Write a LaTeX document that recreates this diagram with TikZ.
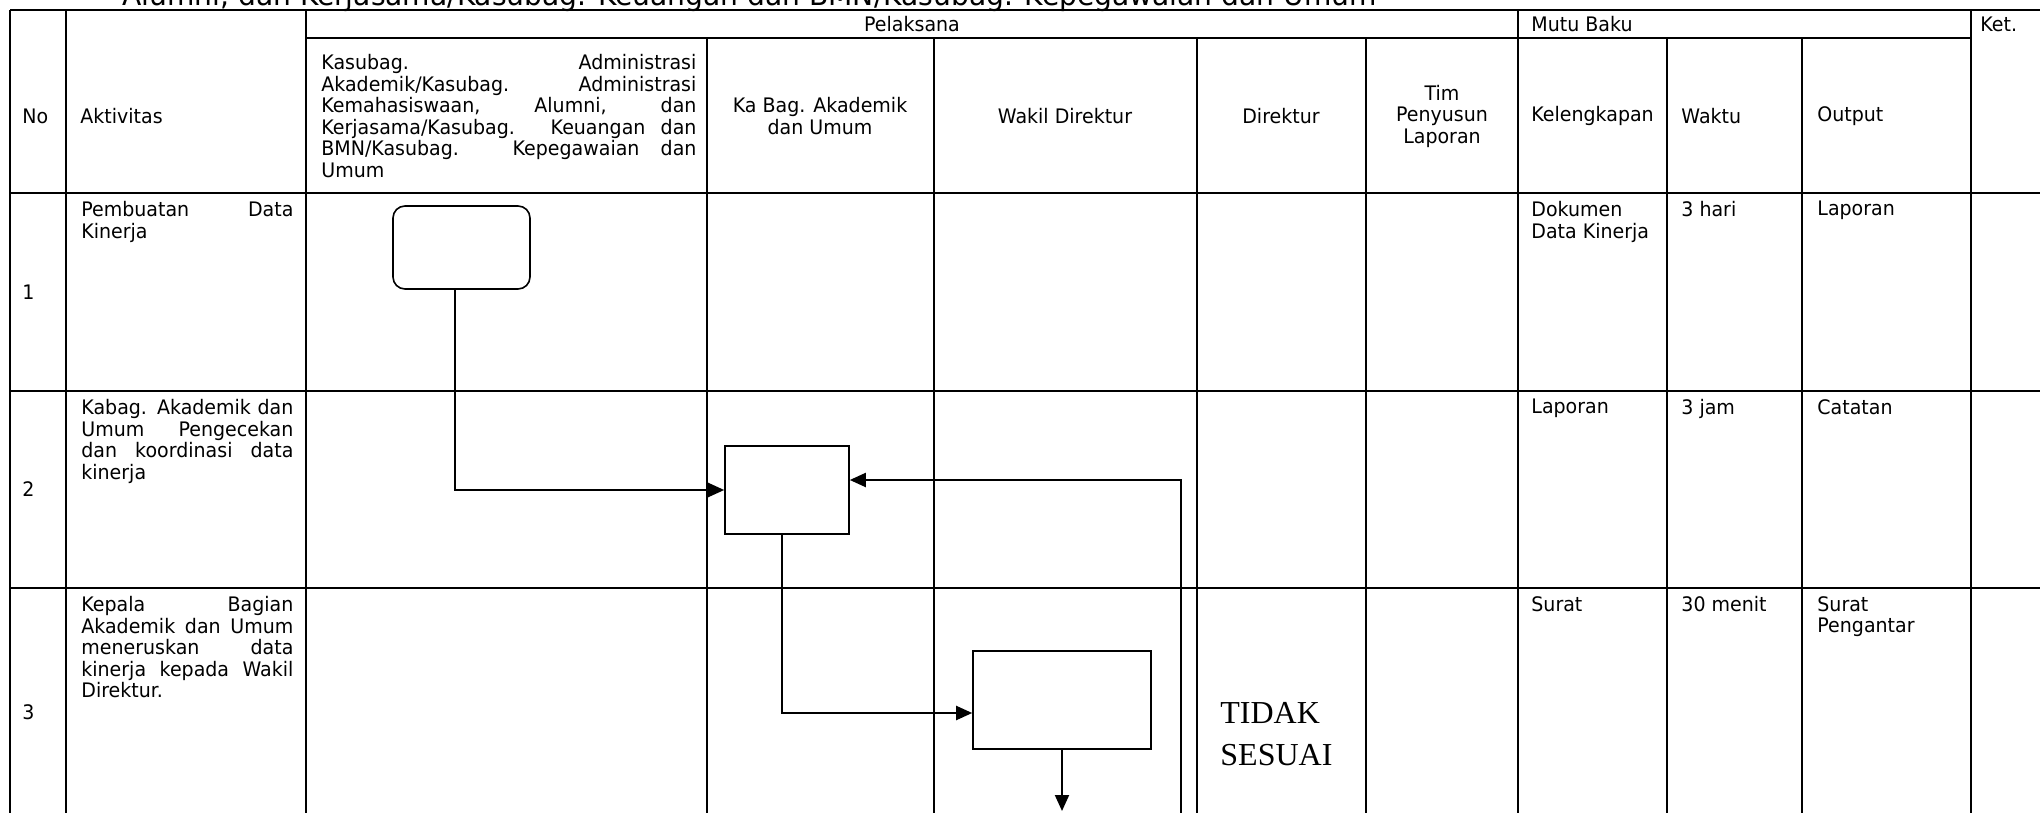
\documentclass[tikz,border=0pt]{standalone}
\usepackage{fontspec}
\setmainfont{DejaVu Sans}[FakeStretch=0.95]
\newfontfamily\judulfont{Liberation Serif}
\usepackage{tikz}
\usetikzlibrary{arrows.meta, positioning, calc}
\newcommand{\cellfont}{\fontsize{10}{10.75}\selectfont}
\tikzset{
  tabline/.style={line width=1.4pt, color=black},
  hdr/.style={inner sep=0pt, font=\cellfont},
  cell/.style={anchor=north west, inner sep=0pt, align=left, font=\cellfont},
  jcell/.style={anchor=north west, inner sep=0pt, text width=106pt,
    align=justify, font=\cellfont},
  prosesbox/.style={rectangle, draw, line width=0.8pt, inner sep=0pt},
  arrow/.style={-{Triangle[length=8pt,width=7pt]}, line width=1pt}
}

\begin{document}
\begin{tikzpicture}[x=0.5pt, y=-0.5pt]
  \useasboundingbox (0,0) rectangle (2040,813);

  % Judul (terpotong di atas)
  \node[anchor=base west, inner sep=0pt, font=\fontsize{14.8}{18}\selectfont]
    (judul) at (122,6) {Alumni, dan Kerjasama/Kasubag. Keuangan dan BMN/Kasubag. Kepegawaian dan Umum};

  % Garis tabel
  \draw[tabline] (10,10) -- (2040,10);
  \draw[tabline] (306,38) -- (1971,38);
  \draw[tabline] (10,193) -- (2040,193);
  \draw[tabline] (10,391) -- (2040,391);
  \draw[tabline] (10,588) -- (2040,588);
  \foreach \x in {10,66,306,1518,1971}
    \draw[tabline] (\x,10) -- (\x,813);
  \foreach \x in {707,934,1197,1366,1667,1802}
    \draw[tabline] (\x,38) -- (\x,813);

  % Kepala tabel
  \node[hdr, anchor=west] (hNo) at (22,116) {No};
  \node[hdr, anchor=west] (hAktivitas) at (80,116) {Aktivitas};
  \node[hdr] (hPelaksana) at (912,24) {Pelaksana};
  \node[hdr, anchor=west] (hMutu) at (1531,24) {Mutu Baku};
  \node[hdr, anchor=west] (hKet) at (1980,24) {Ket.};
  \node[hdr, anchor=west, text width=187.5pt, align=justify] (hKasubag) at (321,116)
    {Kasubag. Administrasi\linebreak Akademik/Kasubag. Administrasi\linebreak
     Kemahasiswaan, Alumni, dan\linebreak Kerjasama/Kasubag. Keuangan dan\linebreak
     BMN/Kasubag. Kepegawaian dan\linebreak Umum};
  \node[hdr, align=center] (hKabag) at (820,116) {Ka Bag. Akademik\\dan Umum};
  \node[hdr] (hWadir) at (1065,116) {Wakil Direktur};
  \node[hdr] (hDirektur) at (1281,116) {Direktur};
  \node[hdr, align=center] (hTim) at (1442,116) {Tim\\Penyusun\\Laporan};
  \node[hdr, anchor=west] (hLengkap) at (1531,116) {Kelengkapan};
  \node[hdr, anchor=west] (hWaktu) at (1681,116) {Waktu};
  \node[hdr, anchor=west] (hOutput) at (1817,116) {Output};

  % Baris 1
  \node[hdr, anchor=west] (no1) at (22,292) {1};
  \node[jcell] (akt1) at (81,201) {Pembuatan Data\linebreak Kinerja};
  \node[cell] (lengkap1) at (1531,201) {Dokumen\\Data Kinerja};
  \node[cell] (waktu1) at (1681,201) {3 hari};
  \node[cell] (output1) at (1817,201) {Laporan};

  % Baris 2
  \node[hdr, anchor=west] (no2) at (22,489) {2};
  \node[jcell] (akt2) at (81,399)
    {Kabag. Akademik dan\linebreak Umum Pengecekan\linebreak dan koordinasi data\linebreak kinerja};
  \node[cell] (lengkap2) at (1531,399) {Laporan};
  \node[cell] (waktu2) at (1681,399) {3 jam};
  \node[cell] (output2) at (1817,399) {Catatan};

  % Baris 3
  \node[hdr, anchor=west] (no3) at (22,712) {3};
  \node[jcell] (akt3) at (81,596)
    {Kepala Bagian\linebreak Akademik dan Umum\linebreak meneruskan data\linebreak
     kinerja kepada Wakil\linebreak Direktur.};
  \node[cell] (lengkap3) at (1531,596) {Surat};
  \node[cell] (waktu3) at (1681,596) {30 menit};
  \node[cell] (output3) at (1817,596) {Surat\\Pengantar};

  % Simbol alur
  \node[prosesbox, rounded corners=6pt, minimum width=68.5pt, minimum height=41.5pt]
    (b1) at (461.5,247.5) {};
  \node[prosesbox, minimum width=62pt, minimum height=44pt] (b2) at (787,490) {};
  \node[prosesbox, minimum width=89pt, minimum height=49pt] (b3) at (1062,700) {};
  \node[anchor=west, inner sep=0pt, align=left, font=\judulfont\fontsize{16}{21}\selectfont]
    (tidak) at (1220,734) {TIDAK\\SESUAI};

  % Panah
  \coordinate (b3out) at (1062,811);
  \coordinate (balik) at (1181,813);
  \draw[arrow] ([xshift=-3.25pt]b1.south) |- (b2.west);
  \draw[arrow] ([xshift=-2.5pt]b2.south) |- ([yshift=-6.5pt]b3.west);
  \draw[arrow] (b3.south) -- (b3out);
  \draw[arrow] (balik) |- ([yshift=5pt]b2.east);
\end{tikzpicture}
\end{document}
